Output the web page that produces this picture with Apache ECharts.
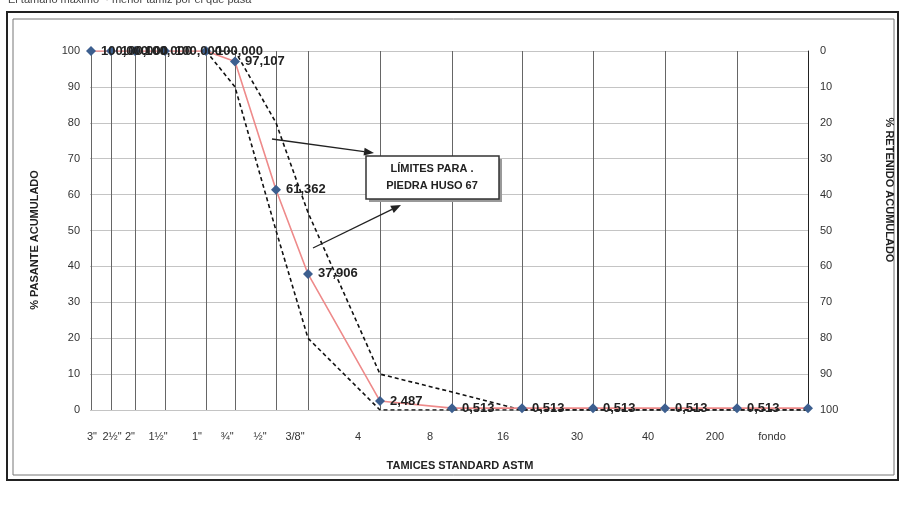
<!DOCTYPE html>
<html>
<head>
<meta charset="utf-8">
<script src="https://cdn.jsdelivr.net/npm/echarts@6/dist/echarts.min.js"></script>
<style>
html,body{margin:0;padding:0;background:#fff;}
#chart{width:901px;height:508px;}
</style>
</head>
<body>
<div id="chart"></div>
<script>
// Sieve names, their position along the chart's horizontal axis, and label positions
const sieveNames = ['3"', '2½"', '2"', '1½"', '1"', '¾"', '½"', '3/8"', '4', '8', '16', '30', '40', '200', 'fondo'];
const sievePos   = [1, 21, 45, 75, 116, 145, 186, 218, 290, 362, 432, 503, 575, 647, 718];
const labelPos   = [2, 22, 40, 68, 107, 137, 170, 205, 268, 340, 413, 487, 558, 625, 682];
// % pasante acumulado
const pasante    = [100, 100, 100, 100, 100, 97.107, 61.362, 37.906, 2.487, 0.513, 0.513, 0.513, 0.513, 0.513, 0.513];
const showLabel  = [true, true, true, true, true, true, true, true, true, true, true, true, true, true, false];
// Huso 67 limits
const limSup     = [null, null, null, null, 100, 100, 80, 55, 10, 5, 0, 0, 0, 0, 0];
const limInf     = [null, null, null, null, 100, 90, 50, 20, 0, 0, 0, 0, 0, 0, 0];
const yTicks     = [0, 100, 10]; // min, max, interval

const fmt = v => v.toFixed(3).replace('.', ',');
const pair = arr => arr.map((v, i) => v === null ? null : [sievePos[i], v]).filter(d => d !== null);

const chart = echarts.init(document.getElementById('chart'), null, {renderer: 'canvas'});

function arrow(x1, y1, x2, y2) {
  const ang = Math.atan2(y2 - y1, x2 - x1);
  const L = 10, W = 4;
  const bx = x2 - L * Math.cos(ang), by = y2 - L * Math.sin(ang);
  const px = -Math.sin(ang) * W, py = Math.cos(ang) * W;
  return [
    {type: 'line', shape: {x1: x1, y1: y1, x2: bx, y2: by}, style: {stroke: '#222', lineWidth: 1.3}, z: 100},
    {type: 'polygon', shape: {points: [[x2, y2], [bx + px, by + py], [bx - px, by - py]]}, style: {fill: '#222'}, z: 100}
  ];
}

const font = 'Liberation Sans, Arial, sans-serif';

chart.setOption({
  animation: false,
  backgroundColor: '#fff',
  textStyle: {fontFamily: font},
  grid: {left: 90, right: 93, top: 51, bottom: 98, containLabel: false},
  xAxis: {
    type: 'value', min: 0, max: 718,
    axisLine: {show: false},
    axisTick: {show: false, customValues: sievePos},
    splitLine: {show: true, lineStyle: {color: '#666', width: 1}},
    axisLabel: {
      customValues: labelPos,
      margin: 21, fontSize: 11, color: '#333', fontFamily: font,
      formatter: v => { const i = labelPos.indexOf(v); return i >= 0 ? sieveNames[i] : ''; }
    }
  },
  yAxis: [
    {
      type: 'value', min: yTicks[0], max: yTicks[1], interval: yTicks[2],
      axisLine: {show: false}, axisTick: {show: false},
      splitLine: {show: true, lineStyle: {color: '#c4c4c4', width: 1}},
      axisLabel: {fontSize: 11, color: '#333', margin: 10, fontFamily: font}
    },
    {
      type: 'value', min: yTicks[0], max: yTicks[1], interval: yTicks[2], inverse: true,
      position: 'right',
      axisLine: {show: true, lineStyle: {color: '#222', width: 1}}, axisTick: {show: false},
      splitLine: {show: false},
      axisLabel: {fontSize: 11, color: '#333', margin: 12, fontFamily: font}
    }
  ],
  series: [
    {
      name: 'Límite superior', type: 'line', yAxisIndex: 0, data: pair(limSup),
      symbol: 'none', lineStyle: {color: '#111', width: 1.6, type: [4, 3]}, z: 3
    },
    {
      name: 'Límite inferior', type: 'line', yAxisIndex: 0, data: pair(limInf),
      symbol: 'none', lineStyle: {color: '#111', width: 1.6, type: [4, 3]}, z: 3
    },
    {
      name: '% Pasante', type: 'line', yAxisIndex: 0,
      data: pasante.map((v, i) => ({value: [sievePos[i], v], label: {show: showLabel[i]}})),
      symbol: 'diamond', symbolSize: 10,
      itemStyle: {color: '#3d5f8f'},
      lineStyle: {color: '#ee8a8a', width: 1.6}, z: 4,
      label: {
        show: true, position: 'right', distance: 5,
        fontSize: 13, fontWeight: 'bold', color: '#222', fontFamily: font,
        formatter: p => fmt(p.value[1])
      }
    }
  ],
  graphic: [
    {type: 'rect', shape: {x: 7, y: 12, width: 891, height: 468}, style: {fill: 'none', stroke: '#222', lineWidth: 2}, z: 0},
    {type: 'rect', shape: {x: 13, y: 19, width: 881, height: 456}, style: {fill: 'none', stroke: '#777', lineWidth: 1}, z: 0},
    {type: 'text', x: 8, y: -6, style: {text: 'El tamaño máximo  · menor tamiz por el que pasa', font: '11px ' + font, fill: '#444'}},
    {type: 'text', x: 35, y: 240, rotation: Math.PI / 2, style: {text: '% PASANTE ACUMULADO', font: 'bold 11px ' + font, fill: '#222', align: 'center', verticalAlign: 'middle'}},
    {type: 'text', x: 889, y: 190, rotation: -Math.PI / 2, style: {text: '% RETENIDO ACUMULADO', font: 'bold 11px ' + font, fill: '#222', align: 'center', verticalAlign: 'middle'}},
    {type: 'text', x: 460, y: 466, style: {text: 'TAMICES STANDARD ASTM', font: 'bold 11px ' + font, fill: '#222', align: 'center', verticalAlign: 'middle'}},
    {type: 'rect', shape: {x: 369, y: 159, width: 133, height: 43}, style: {fill: '#999'}, z: 98},
    {type: 'rect', shape: {x: 366, y: 156, width: 133, height: 43}, style: {fill: '#fff', stroke: '#333', lineWidth: 1.5}, z: 99},
    {type: 'text', x: 432, y: 177, z: 100, style: {text: 'LÍMITES PARA .\nPIEDRA HUSO 67', font: 'bold 11px ' + font, fill: '#222', align: 'center', verticalAlign: 'middle', lineHeight: 17}},
    ...arrow(272, 139, 374, 153),
    ...arrow(313, 248, 401, 205)
  ]
});
</script>
</body>
</html>
